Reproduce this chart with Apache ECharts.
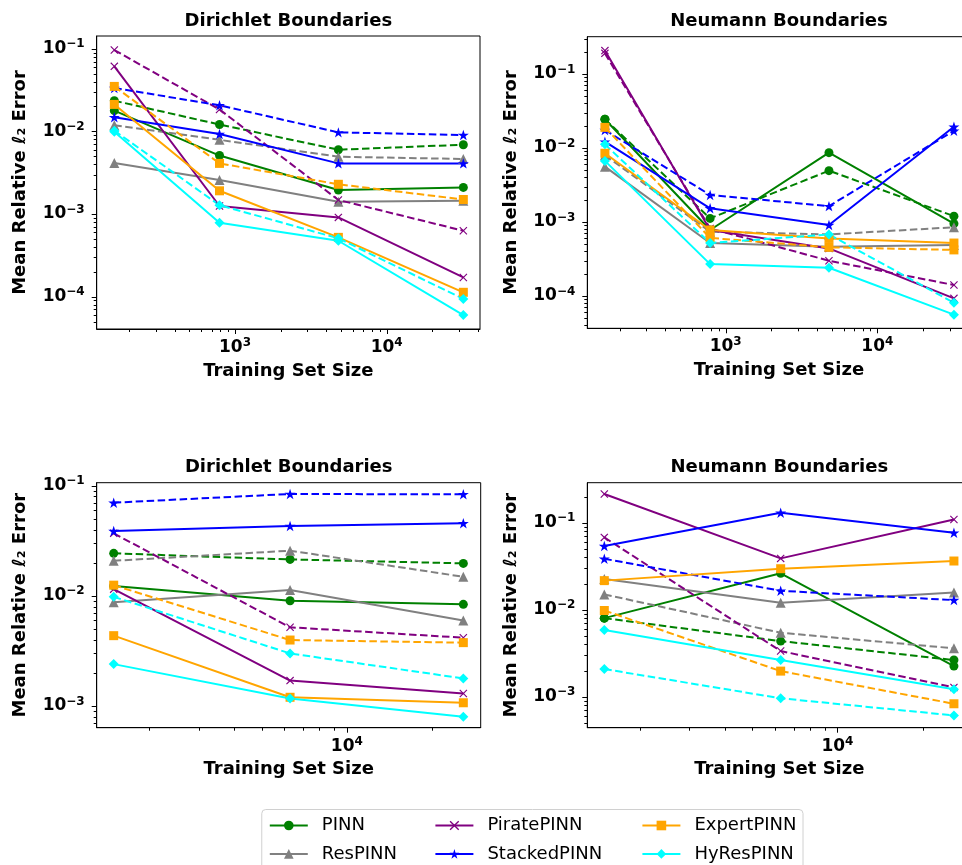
<!DOCTYPE html>
<html>
<head>
<meta charset="utf-8">
<script src="https://cdn.jsdelivr.net/npm/echarts@6/dist/echarts.min.js"></script>
<style>
  html, body { margin: 0; padding: 0; background: #fff; overflow: hidden; }
  /* the right-hand panels run slightly past the window edge */
  #chart { width: 990px; height: 865px; }
</style>
</head>
<body>
<div id="chart"></div>
<script>
// Model names, in plotting / legend order
const models = ['PINN', 'ResPINN', 'PiratePINN', 'StackedPINN', 'ExpertPINN', 'HyResPINN'];

// Training set sizes
const sizesTop = [160, 790, 4800, 32000];
const sizesBottom = [1500, 6300, 25800];

// Panel titles
const panelTitles = ['Dirichlet Boundaries', 'Neumann Boundaries', 'Dirichlet Boundaries', 'Neumann Boundaries'];

// Mean relative L2 errors, one row per model (solid = first variant, dashed = second variant)
const dirTopSolid = [
  [0.0178, 0.0051, 0.00195, 0.0021],
  [0.00415, 0.00258, 0.00141, 0.00145],
  [0.0612, 0.00125, 0.00091, 0.000171],
  [0.0148, 0.0093, 0.0041, 0.0041],
  [0.0212, 0.00191, 0.000522, 0.000113],
  [0.0099, 0.000785, 0.000475, 0.00006]
];
const dirTopDashed = [
  [0.0235, 0.0121, 0.0060, 0.0069],
  [0.0119, 0.0079, 0.00494, 0.00463],
  [0.0964, 0.0184, 0.00148, 0.000628],
  [0.0335, 0.0207, 0.00973, 0.00903],
  [0.0350, 0.0041, 0.00229, 0.0015],
  [0.0102, 0.00128, 0.000508, 0.000094]
];
const neuTopSolid = [
  [0.0245, 0.00078, 0.00865, 0.00095],
  [0.0056, 0.00052, 0.000465, 0.00049],
  [0.207, 0.00078, 0.00044, 0.000093],
  [0.0122, 0.00153, 0.00091, 0.0194],
  [0.0085, 0.00078, 0.0006, 0.00052],
  [0.0067, 0.00027, 0.000241, 0.000056]
];
const neuTopDashed = [
  [0.0245, 0.00112, 0.00494, 0.0012],
  [0.0080, 0.00074, 0.00068, 0.00085],
  [0.190, 0.00082, 0.0003, 0.000141],
  [0.0175, 0.00232, 0.00164, 0.0171],
  [0.0190, 0.00061, 0.000455, 0.00042],
  [0.0112, 0.00052, 0.00068, 0.000081]
];
const dirBottomSolid = [
  [0.0123, 0.00903, 0.00837],
  [0.00873, 0.0113, 0.00596],
  [0.0115, 0.0017, 0.0013],
  [0.0388, 0.043, 0.0455],
  [0.00435, 0.0012, 0.00107],
  [0.0024, 0.00117, 0.0008]
];
const dirBottomDashed = [
  [0.0243, 0.0214, 0.0197],
  [0.0208, 0.0257, 0.0149],
  [0.0369, 0.00518, 0.00417],
  [0.0701, 0.084, 0.0835],
  [0.0125, 0.00397, 0.00376],
  [0.0098, 0.0030, 0.00178]
];
const neuBottomSolid = [
  [0.0080, 0.0262, 0.00225],
  [0.0225, 0.0120, 0.0158],
  [0.214, 0.0389, 0.109],
  [0.054, 0.130, 0.0767],
  [0.0216, 0.0296, 0.0363],
  [0.00585, 0.00264, 0.00122]
];
const neuBottomDashed = [
  [0.0080, 0.00436, 0.00264],
  [0.0150, 0.00544, 0.0036],
  [0.0678, 0.00335, 0.00128],
  [0.0385, 0.0165, 0.0129],
  [0.0098, 0.00197, 0.00083],
  [0.00208, 0.00096, 0.00061]
];

// ---- styling ----
const FONT = 'DejaVu Sans';
const colors = ['#008000', '#808080', '#800080', '#0000ff', '#ffa500', '#00ffff'];
const starPath = 'path://M10,0L12.245,6.91L19.51,6.91L13.63,11.18L15.88,18.09L10,13.82L4.12,18.09L6.37,11.18L0.49,6.91L7.755,6.91Z';
const crossPath = 'path://M1,0L5,4L9,0L10,1L6,5L10,9L9,10L5,6L1,10L0,9L4,5L0,1Z';
const symbols = ['circle', 'triangle', crossPath, starPath, 'rect', 'diamond'];
const symbolSizes = [9, 10, 8, 11, 9, 10];
const dashPattern = [7.5, 3.5];

const panels = [
  { sizes: sizesTop, solid: dirTopSolid, dashed: dirTopDashed,
    grid: { left: 96.7, top: 36, width: 383.3, height: 293 }, xr: [2.088, 4.615], yr: [-4.391, -0.846] },
  { sizes: sizesTop, solid: neuTopSolid, dashed: neuTopDashed,
    grid: { left: 587.3, top: 36.7, width: 383.3, height: 291.6 }, xr: [2.088, 4.615], yr: [-4.436, -0.496] },
  { sizes: sizesBottom, solid: dirBottomSolid, dashed: dirBottomDashed,
    grid: { left: 96.7, top: 482.7, width: 384, height: 245 }, xr: [3.116, 4.473], yr: [-3.197, -0.973] },
  { sizes: sizesBottom, solid: neuBottomSolid, dashed: neuBottomDashed,
    grid: { left: 587.3, top: 482.7, width: 384, height: 245 }, xr: [3.116, 4.473], yr: [-3.356, -0.540] }
];

function powerLabel(value) {
  const lg = Math.log10(value);
  const e = Math.round(lg);
  if (Math.abs(lg - e) > 1e-6) return '';
  const sup = e < 0 ? '\u2212' + (-e) : String(e);
  return '{b|10}{s|' + sup + '}';
}
const labelRich = {
  b: { fontFamily: FONT, fontWeight: 'bold', fontSize: 17, color: '#000' },
  s: { fontFamily: FONT, fontWeight: 'bold', fontSize: 12, color: '#000', padding: [0, 0, 9, 0] }
};
const nameStyle = { fontFamily: FONT, fontWeight: 'bold', fontSize: 18, color: '#000' };

const grids = [], xAxes = [], yAxes = [], titles = [], series = [];
panels.forEach((p, i) => {
  grids.push(Object.assign({ show: true, borderColor: '#000', borderWidth: 1, backgroundColor: '#fff' }, p.grid));
  titles.push({
    text: panelTitles[i],
    left: p.grid.left + p.grid.width / 2,
    top: p.grid.top - 24,
    textAlign: 'center',
    padding: 0,
    textStyle: nameStyle
  });
  const axisCommon = {
    type: 'log', logBase: 10, gridIndex: i,
    axisLine: { show: true, lineStyle: { color: '#000', width: 1 } },
    axisTick: { show: false }, minorTick: { show: false },
    splitLine: { show: false }, minorSplitLine: { show: false },
    nameLocation: 'middle', nameTextStyle: nameStyle
  };
  xAxes.push(Object.assign({}, axisCommon, {
    min: Math.pow(10, p.xr[0]), max: Math.pow(10, p.xr[1]),
    name: 'Training Set Size', nameGap: 33,
    axisLabel: { interval: 0, margin: 8, formatter: powerLabel, rich: labelRich }
  }));
  yAxes.push(Object.assign({}, axisCommon, {
    min: Math.pow(10, p.yr[0]), max: Math.pow(10, p.yr[1]),
    name: 'Mean Relative \u2113\u2082 Error', nameGap: 67,
    axisLabel: { interval: 0, margin: 12, formatter: powerLabel, rich: labelRich }
  }));
  models.forEach((m, k) => {
    [['solid', p.solid[k]], ['dashed', p.dashed[k]]].forEach(([kind, vals]) => {
      series.push({
        type: 'line', name: m, xAxisIndex: i, yAxisIndex: i,
        data: p.sizes.map((x, j) => [x, vals[j]]),
        symbol: symbols[k], symbolSize: symbolSizes[k], symbolKeepAspect: true,
        showSymbol: true,
        itemStyle: { color: colors[k] },
        lineStyle: { color: colors[k], width: 2, type: kind === 'solid' ? 'solid' : dashPattern },
        emphasis: { disabled: true },
        animation: false
      });
    });
  });
});

const legendCommon = {
  orient: 'vertical', padding: 0, itemWidth: 38, itemHeight: 12, itemGap: 10.4,
  top: 816.5, selectedMode: false,
  textStyle: { fontFamily: FONT, fontSize: 18, color: '#000', padding: [0, 0, 0, 9] }
};
const legends = [
  Object.assign({}, legendCommon, { left: 268.8, data: ['PINN', 'ResPINN'] }),
  Object.assign({}, legendCommon, { left: 434.4, data: ['PiratePINN', 'StackedPINN'] }),
  Object.assign({}, legendCommon, { left: 641.4, data: ['ExpertPINN', 'HyResPINN'] })
];

const chart = echarts.init(document.getElementById('chart'), null, { renderer: 'canvas' });
chart.setOption({
  backgroundColor: '#fff',
  animation: false,
  title: titles,
  grid: grids,
  xAxis: xAxes,
  yAxis: yAxes,
  legend: legends,
  series: series
});

// Major (decade) and minor (2..9 x decade) tick marks on the log axes, placed through the axis scales
function tickValues(lo, hi) {
  const out = [];
  for (let e = Math.floor(lo) - 1; e <= Math.ceil(hi); e++) {
    for (let m = 1; m <= 9; m++) {
      const v = m * Math.pow(10, e);
      const lg = Math.log10(v);
      if (lg >= lo - 1e-9 && lg <= hi + 1e-9) out.push({ v: v, major: m === 1 });
    }
  }
  return out;
}
const ticks = [];
panels.forEach((p, i) => {
  const x0 = Math.pow(10, p.xr[0]), y0 = Math.pow(10, p.yr[0]);
  const origin = chart.convertToPixel({ gridIndex: i }, [x0, y0]);
  tickValues(p.xr[0], p.xr[1]).forEach(t => {
    const px = Math.round(chart.convertToPixel({ gridIndex: i }, [t.v, y0])[0]) + 0.5;
    const len = t.major ? 5 : 3;
    ticks.push({ type: 'line', silent: true,
      shape: { x1: px, y1: origin[1], x2: px, y2: origin[1] + len },
      style: { stroke: '#000', lineWidth: 1 } });
  });
  tickValues(p.yr[0], p.yr[1]).forEach(t => {
    const py = Math.round(chart.convertToPixel({ gridIndex: i }, [x0, t.v])[1]) + 0.5;
    const len = t.major ? 5 : 3;
    ticks.push({ type: 'line', silent: true,
      shape: { x1: origin[0], y1: py, x2: origin[0] - len, y2: py },
      style: { stroke: '#000', lineWidth: 1 } });
  });
});
// Legend frame
ticks.push({ type: 'rect', silent: true, z: -1,
  shape: { x: 261.75, y: 809.5, width: 541.25, height: 62, r: 4 },
  style: { fill: 'none', stroke: '#d0d0d0', lineWidth: 1 } });

chart.setOption({ graphic: ticks });
</script>
</body>
</html>
